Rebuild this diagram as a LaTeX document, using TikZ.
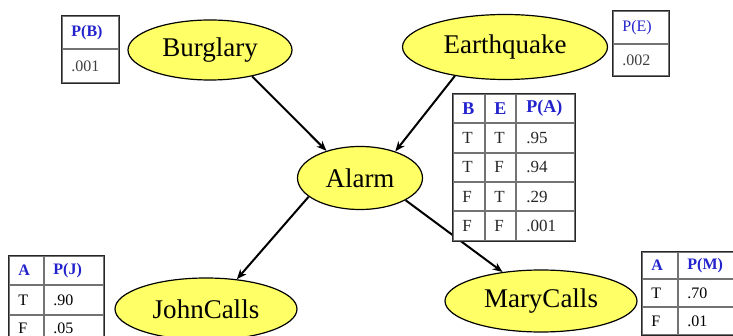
\documentclass[tikz,border=0pt]{standalone}
\usepackage{fontspec}
\setmainfont{Liberation Serif}
\usepackage{xcolor}
\usetikzlibrary{arrows.meta,positioning,matrix,shapes.geometric}
\definecolor{varyellow}{RGB}{255,255,102}
\definecolor{headblue}{RGB}{35,35,205}
\tikzset{
  var/.style={ellipse,draw=black,line width=1.2pt,fill=varyellow,inner sep=0pt,
    font=\fontsize{27}{30}\selectfont},
  cpt/.style={matrix of nodes,draw=black!85,line width=1.8pt,fill=white,
    inner sep=0pt,row sep=0pt,column sep=0pt,anchor=north west,
    nodes={draw=black!55,line width=1pt,outer sep=0pt,inner xsep=9pt,
      inner ysep=0pt,align=left,anchor=center,font=\fontsize{16}{19}\selectfont}},
  head/.style={font=\fontsize{16}{19}\selectfont\bfseries,text=headblue},
  bighead/.style={font=\fontsize{18}{21}\selectfont\bfseries,text=headblue},
  edge/.style={-{Stealth[length=10pt,width=8pt]},line width=2pt},
}

\begin{document}
\begin{tikzpicture}[x=1pt,y=-1pt]
  \useasboundingbox (0,0) rectangle (733,336);
  % variables
  \node[var,minimum width=164pt,minimum height=60pt] (burglary) at (210,50) {Burglary};
  \node[var,minimum width=205pt,minimum height=65pt] (earthquake) at (505,47) {Earthquake};
  \node[var,minimum width=125pt,minimum height=63pt] (alarm) at (360,178) {Alarm};
  \node[var,minimum width=182pt,minimum height=62pt] (johncalls) at (206,309) {JohnCalls};
  \node[var,minimum width=192pt,minimum height=62pt] (marycalls) at (541,301) {MaryCalls};
  % links
  \draw[edge] (burglary.-32) -- (alarm.141);
  \draw[edge] (earthquake.-150) -- (alarm.37);
  \draw[edge] (alarm.-160) -- (johncalls.44);
  \draw[edge] (alarm.-26) -- (marycalls.143);
  % tables
  \matrix (cptB) [cpt,column 1/.style={nodes={text width=38pt}},
    row 1/.style={nodes={minimum height=32pt}},
    row 2/.style={nodes={minimum height=33pt}}] at (61,15) {
    |[head]| P(B) \\
    |[text=black!75]| .001 \\
  };
  \matrix (cptE) [cpt,column 1/.style={nodes={text width=37pt}},
    row 1/.style={nodes={minimum height=32pt}},
    row 2/.style={nodes={minimum height=31pt}}] at (612,10) {
    |[text=headblue]| P(E) \\
    |[text=black!75]| .002 \\
  };
  \matrix (cptA) [cpt,nodes={minimum height=28.4pt,text=black!85,
      font=\fontsize{17}{20}\selectfont},
    column 1/.style={nodes={text width=13pt}},
    column 2/.style={nodes={text width=12pt}},
    column 3/.style={nodes={text width=38pt,inner xsep=10pt}}] at (452,93) {
    |[bighead]| B & |[bighead]| E & |[bighead]| P(A) \\
    T & T & .95 \\
    T & F & .94 \\
    F & T & .29 \\
    F & F & .001 \\
  };
  \matrix (cptJ) [cpt,column 1/.style={nodes={text width=16pt}},
    column 2/.style={nodes={text width=41pt}},
    row 1/.style={nodes={minimum height=28pt}},
    row 3/.style={nodes={minimum height=25pt}},
    nodes={minimum height=29pt}] at (8,255) {
    |[head]| A & |[head]| P(J) \\
    T & .90 \\
    F & .05 \\
  };
  \matrix (cptM) [cpt,column 1/.style={nodes={text width=17pt}},
    column 2/.style={nodes={text width=44pt}},
    row 1/.style={nodes={minimum height=26pt}},
    nodes={minimum height=27pt}] at (641,251) {
    |[head]| A & |[head]| P(M) \\
    T & .70 \\
    F & .01 \\
  };
\end{tikzpicture}
\end{document}
